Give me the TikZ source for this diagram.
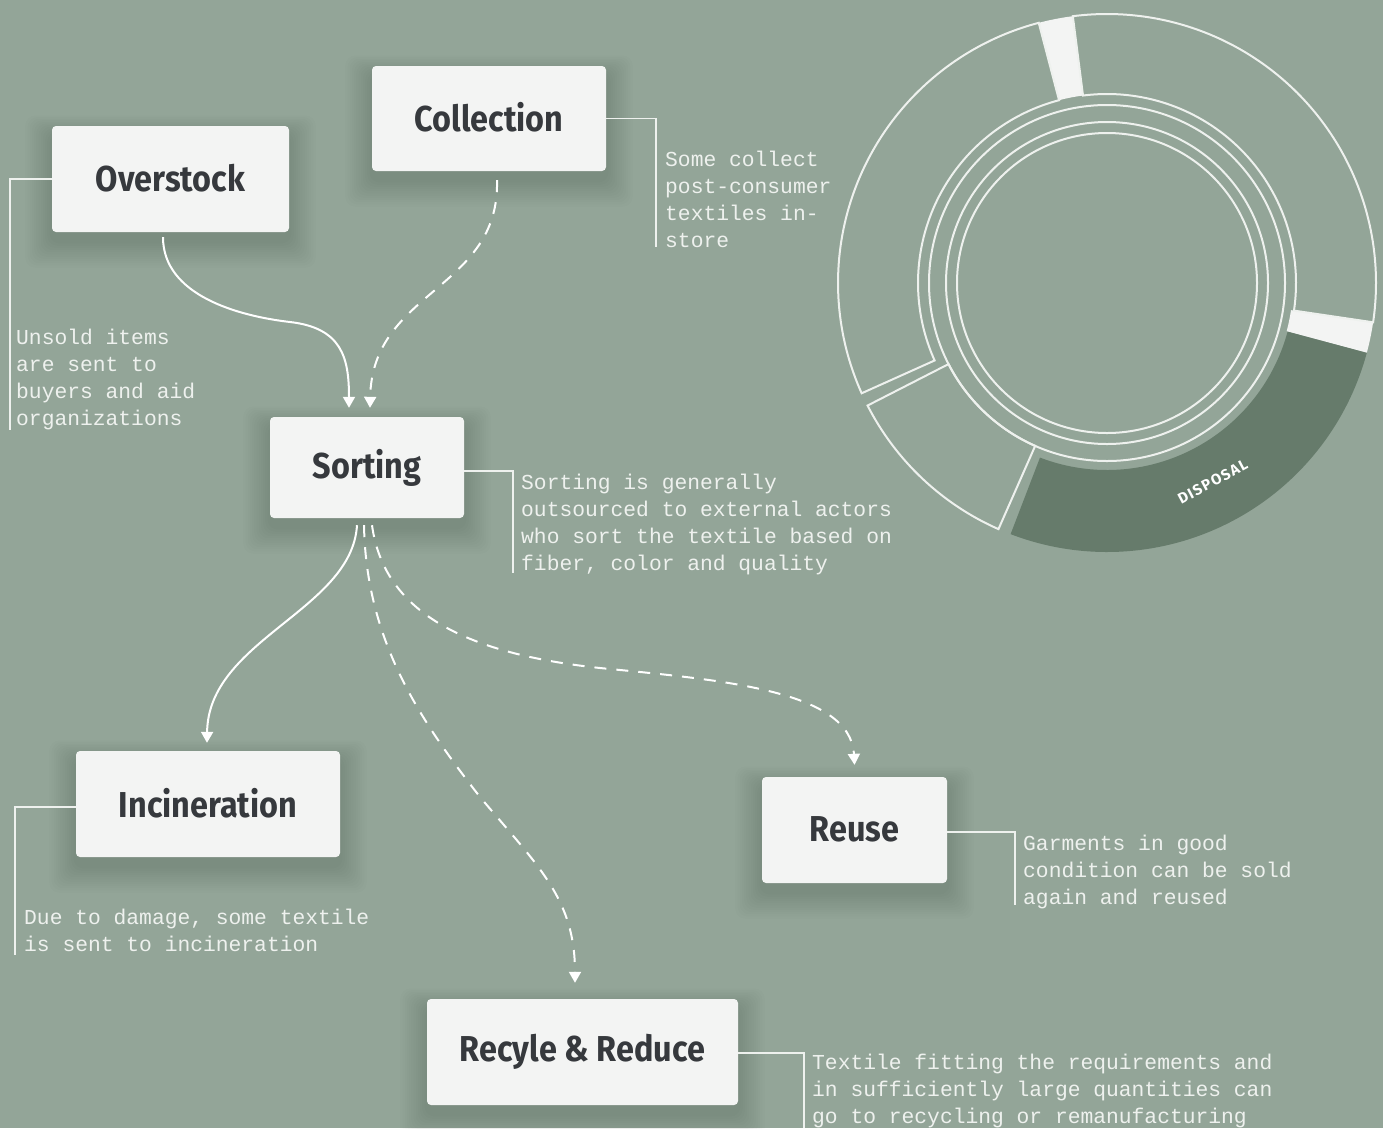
\documentclass[tikz,border=0pt]{standalone}
\usepackage{fontspec}
\setmainfont{Fira Sans}
\newfontfamily\labelfont[FakeStretch=0.9]{Fira Sans}
\newfontfamily\tagfont[LetterSpace=9]{Fira Sans}
\newfontfamily\notefont{Liberation Mono}
\usetikzlibrary{arrows.meta,calc,backgrounds}

\definecolor{sage}{HTML}{93A598}
\definecolor{moss}{HTML}{667B6B}
\definecolor{paper}{HTML}{F3F4F3}
\definecolor{ink}{HTML}{36393D}
\definecolor{chalk}{HTML}{EEF1EE}

\tikzset{
  stagebox/.style={fill=paper, rounded corners=4pt, inner sep=0pt, text=ink,
    font=\labelfont\bfseries\fontsize{36}{40}\selectfont},
  notetext/.style={anchor=north west, inner sep=0pt, align=left, text=chalk,
    font=\notefont\fontsize{21.3}{27}\selectfont},
  leader/.style={draw=chalk, line width=1.8pt},
  flow/.style={draw=white, line width=2pt, -{Triangle[width=12pt,length=11pt]}},
  softflow/.style={flow, dash pattern=on 12pt off 10pt},
  ringline/.style={draw=chalk, line width=2pt},
}

\begin{document}
\begin{tikzpicture}[x=1pt, y=-1pt]
\begin{pgfonlayer}{background}
  \fill[sage] (0,0) rectangle (1383,1128);
\end{pgfonlayer}
\useasboundingbox (0,0) rectangle (1383,1128);

% stages (labels sit a little above the box centre)
\node[stagebox, minimum width=234pt, minimum height=105pt] (coll)  at (489,118.5) {\raisebox{3pt}{Collection}};
\node[stagebox, minimum width=237pt, minimum height=106pt] (over)  at (170.5,179) {\raisebox{3pt}{Overstock}};
\node[stagebox, minimum width=194pt, minimum height=101pt] (sort)  at (367,467.5) {\raisebox{1pt}{Sorting}};
\node[stagebox, minimum width=264pt, minimum height=106pt] (inc)   at (208,804) {\raisebox{3pt}{Incineration}};
\node[stagebox, minimum width=185pt, minimum height=106pt] (reuse) at (854.5,830) {\raisebox{2pt}{Reuse}};
\node[stagebox, minimum width=311pt, minimum height=106pt] (rec)   at (582.5,1052) {Recyle \& Reduce};

% soft shadows under the stages
\begin{pgfonlayer}{background}
  \foreach \n in {coll,over,sort,inc,reuse,rec}{
    \foreach \i in {1,...,12}{
      \fill[black, opacity=0.011, rounded corners=10pt]
        ($(\n.south west)+(-2.2*\i, 9+2.2*\i)$) rectangle ($(\n.north east)+(2.2*\i, 9-1.6*\i)$);
    }
  }
\end{pgfonlayer}

% notes
\node[notetext] (collnote)  at (665,147.1)  {\strut Some collect\\post-consumer\\textiles in-\\store};
\node[notetext] (overnote)  at (16,325.1)   {\strut Unsold items\\are sent to\\buyers and aid\\organizations};
\node[notetext] (sortnote)  at (521,470.1)  {\strut Sorting is generally\\outsourced to external actors\\who sort the textile based on\\fiber, color and quality};
\node[notetext] (incnote)   at (24,905.1)   {\strut Due to damage, some textile\\is sent to incineration};
\node[notetext] (reusenote) at (1023,831.1) {\strut Garments in good\\condition can be sold\\again and reused};
\node[notetext] (recnote)   at (812,1050.1) {\strut Textile fitting the requirements and\\in sufficiently large quantities can\\go to recycling or remanufacturing};

% leader lines from the stages to their notes
\coordinate (collend)  at (656,247);
\coordinate (overend)  at (10,430);
\coordinate (sortend)  at (513,573);
\coordinate (incend)   at (15,955);
\coordinate (reuseend) at (1015,905);
\coordinate (recend)   at (804,1128);
\draw[leader] (coll.east) -| (collend);
\draw[leader] (over.west) -| (overend);
\draw[leader] ($(sort.east)+(0,3.5)$) -| (sortend);
\draw[leader] ($(inc.west)+(0,3)$) -| (incend);
\draw[leader] ($(reuse.east)+(0,2)$) -| (reuseend);
\draw[leader] ($(rec.east)+(0,1)$) -| (recend);

% flows into sorting
\draw[flow] ($(over.south)+(-7.5,5)$) .. controls +(0,58) and +(-52,-6) .. (290,322)
   .. controls +(52,6) and +(0,-50) .. ($(sort.north)+(-18,-9)$);
\draw[softflow] ($(coll.south)+(8,9)$) .. controls +(3,110) and +(2,-118) .. ($(sort.north)+(3,-9)$);

% flows out of sorting
\draw[flow] ($(sort.south)+(-10,7)$) .. controls +(-5,85) and +(1,-103) .. ($(inc.north)+(-1,-8)$);
\draw[softflow] ($(sort.south)+(-3,7)$) .. controls +(2,115) and +(-60,-77) .. (480,797)
   .. controls +(60,71) and +(0,-83) .. ($(rec.north)+(-7.5,-16)$);
\draw[softflow] ($(sort.south)+(5,7)$) .. controls +(13,95) and +(-120,-13) .. (600,668)
   .. controls +(120,12) and +(-4,-75) .. ($(reuse.north)+(0,-12)$);

% ring chart
\begin{scope}[shift={(1107,283)}, yscale=-1]
  \fill[moss] (-111:269) arc[start angle=-111, end angle=-15, radius=269]
    -- (-15:187) arc[start angle=-15, end angle=-111, radius=187] -- cycle;
  \fill[paper] (-15:269) arc[start angle=-15, end angle=-8.4, radius=269]
    -- (-8.4:186) arc[start angle=-8.4, end angle=-15, radius=186] -- cycle;
  \fill[paper] (97.3:269) arc[start angle=97.3, end angle=104.7, radius=269]
    -- (104.7:189) arc[start angle=104.7, end angle=97.3, radius=189] -- cycle;
  \draw[ringline] (-8.4:269) arc[start angle=-8.4, end angle=97.3, radius=269]
    -- (97.3:189) arc[start angle=97.3, end angle=-8.4, radius=189] -- cycle;
  \draw[ringline] (104.7:269) arc[start angle=104.7, end angle=204.2, radius=269]
    -- (204.2:189) arc[start angle=204.2, end angle=104.7, radius=189] -- cycle;
  \draw[ringline] (207.1:269) arc[start angle=207.1, end angle=246.2, radius=269]
    -- (246.2:178) arc[start angle=246.2, end angle=207.1, radius=178] -- cycle;
  \draw[ringline] (0,0) circle[radius=178] (0,0) circle[radius=161] (0,0) circle[radius=150];
  \node[text=white, rotate=28, inner sep=0pt, font=\tagfont\bfseries\fontsize{15}{17}\selectfont]
    (disposal) at (-62:225) {DISPOSAL};
\end{scope}
\end{tikzpicture}
\end{document}
